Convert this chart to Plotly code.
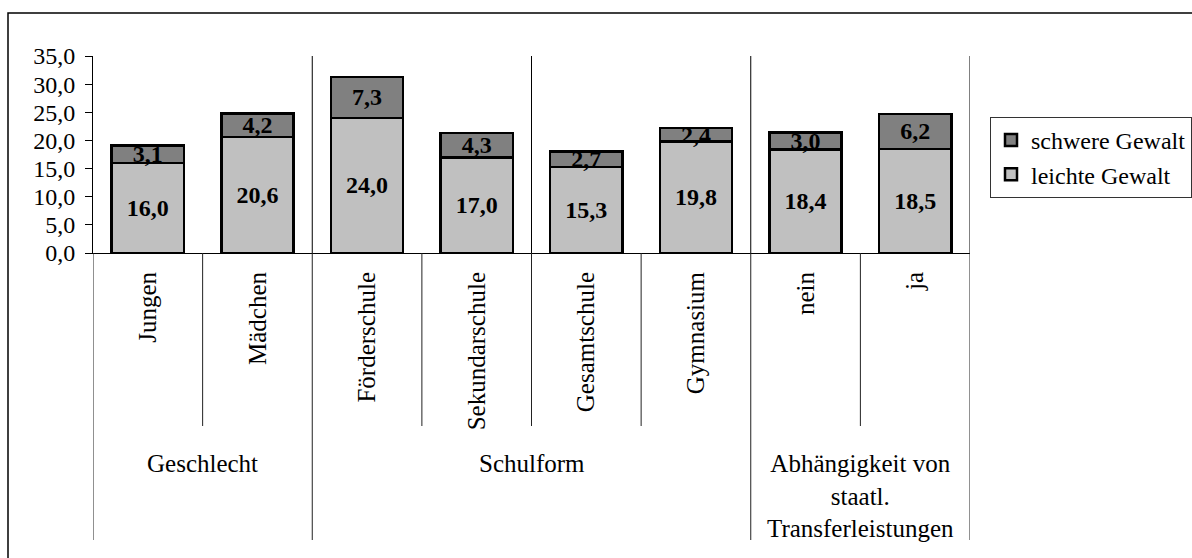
import plotly.graph_objects as go

# ---- data ----
categories = ["Jungen", "Mädchen", "Förderschule", "Sekundarschule",
              "Gesamtschule", "Gymnasium", "nein", "ja"]
leichte_gewalt = [16.0, 20.6, 24.0, 17.0, 15.3, 19.8, 18.4, 18.5]
schwere_gewalt = [3.1, 4.2, 7.3, 4.3, 2.7, 2.4, 3.0, 6.2]
groups = ["Geschlecht", "Schulform",
          "Abhängigkeit von<br>staatl.<br>Transferleistungen"]
group_sizes = [2, 4, 2]
y_ticks = [0, 5, 10, 15, 20, 25, 30, 35]

FONT = "Liberation Serif"
W, H = 1192, 558
X0, X1 = 93, 970      # plot area pixel bounds (x)
Y0, Y1 = 253, 56      # plot area pixel bounds (y: bottom=0, top=35)


def paper_x(p):
    return (p - X0) / (X1 - X0)


def paper_y(p):
    return (Y0 - p) / (Y0 - Y1)


xs = list(range(len(categories)))

fig = go.Figure()
fig.add_trace(go.Bar(
    x=xs, y=leichte_gewalt, name="leichte Gewalt",
    marker=dict(color="#c0c0c0", line=dict(color="black", width=2.5)),
    width=0.66,
    texttemplate="<b>%{y:.1f}</b>", textposition="inside",
    insidetextanchor="middle", constraintext="none",
    textfont=dict(family=FONT, size=24, color="black"),
    hoverinfo="skip",
))
fig.add_trace(go.Bar(
    x=xs, y=schwere_gewalt, name="schwere Gewalt",
    marker=dict(color="#808080", line=dict(color="black", width=2.5)),
    width=0.66,
    texttemplate="<b>%{y:.1f}</b>", textposition="inside",
    insidetextanchor="middle", constraintext="none",
    textfont=dict(family=FONT, size=24, color="black"),
    hoverinfo="skip",
))

shapes = []
# vertical gridlines every two categories (inside plot)
for b in range(2, len(categories) + 1, 2):
    shapes.append(dict(type="line", xref="x", yref="y", x0=b - 0.5, x1=b - 0.5,
                       y0=0, y1=35, line=dict(color="black", width=1),
                       layer="below"))

# separators below the axis
group_bounds = [0]
for s in group_sizes:
    group_bounds.append(group_bounds[-1] + s)
for b in range(len(categories) + 1):
    long_line = b in group_bounds
    shapes.append(dict(type="line", xref="x", yref="paper", x0=b - 0.5, x1=b - 0.5,
                       y0=0, y1=paper_y(540 if long_line else 426),
                       line=dict(color="#222", width=1)))

# outer frame
shapes.append(dict(type="rect", xref="paper", yref="paper",
                   x0=paper_x(8), x1=paper_x(1210), y0=paper_y(575), y1=paper_y(13),
                   line=dict(color="black", width=1.5), fillcolor="rgba(0,0,0,0)"))

annotations = []
for i, g in enumerate(groups):
    center = (group_bounds[i] + group_bounds[i + 1] - 1) / 2
    annotations.append(dict(text=g, x=center, xref="x", y=paper_y(448), yref="paper",
                            xanchor="center", yanchor="top", showarrow=False,
                            align="center",
                            font=dict(family=FONT, size=25, color="black")))

fig.update_layout(
    width=W, height=H,
    margin=dict(l=X0, r=W - X1, t=Y1, b=H - Y0, autoexpand=False),
    paper_bgcolor="white", plot_bgcolor="white",
    barmode="stack",
    separators=",.",
    font=dict(family=FONT, size=24, color="black"),
    showlegend=True,
    legend=dict(x=paper_x(990), y=paper_y(117), xanchor="left", yanchor="top",
                bgcolor="white", bordercolor="#333", borderwidth=1,
                font=dict(family=FONT, size=24, color="black"),
                traceorder="reversed", itemwidth=30),
    shapes=shapes,
    annotations=annotations,
)
fig.update_xaxes(
    range=[-0.5, len(categories) - 0.5],
    tickvals=xs, ticktext=categories, tickangle=-90,
    ticks="", ticklabelstandoff=8, automargin=False,
    showline=True, linecolor="black", linewidth=1,
    showgrid=False, zeroline=False,
    tickfont=dict(family=FONT, size=25, color="black"),
)
fig.update_yaxes(
    range=[0, 35], tickvals=y_ticks, tickformat=".1f",
    ticks="outside", ticklen=7, tickcolor="black", automargin=False,
    ticklabelstandoff=5,
    showline=True, linecolor="black", linewidth=1,
    showgrid=False, zeroline=False,
    tickfont=dict(family=FONT, size=24, color="black"),
)

fig.write_html("out.html", config={"displayModeBar": False},
               post_script="document.body.style.margin='0';")
